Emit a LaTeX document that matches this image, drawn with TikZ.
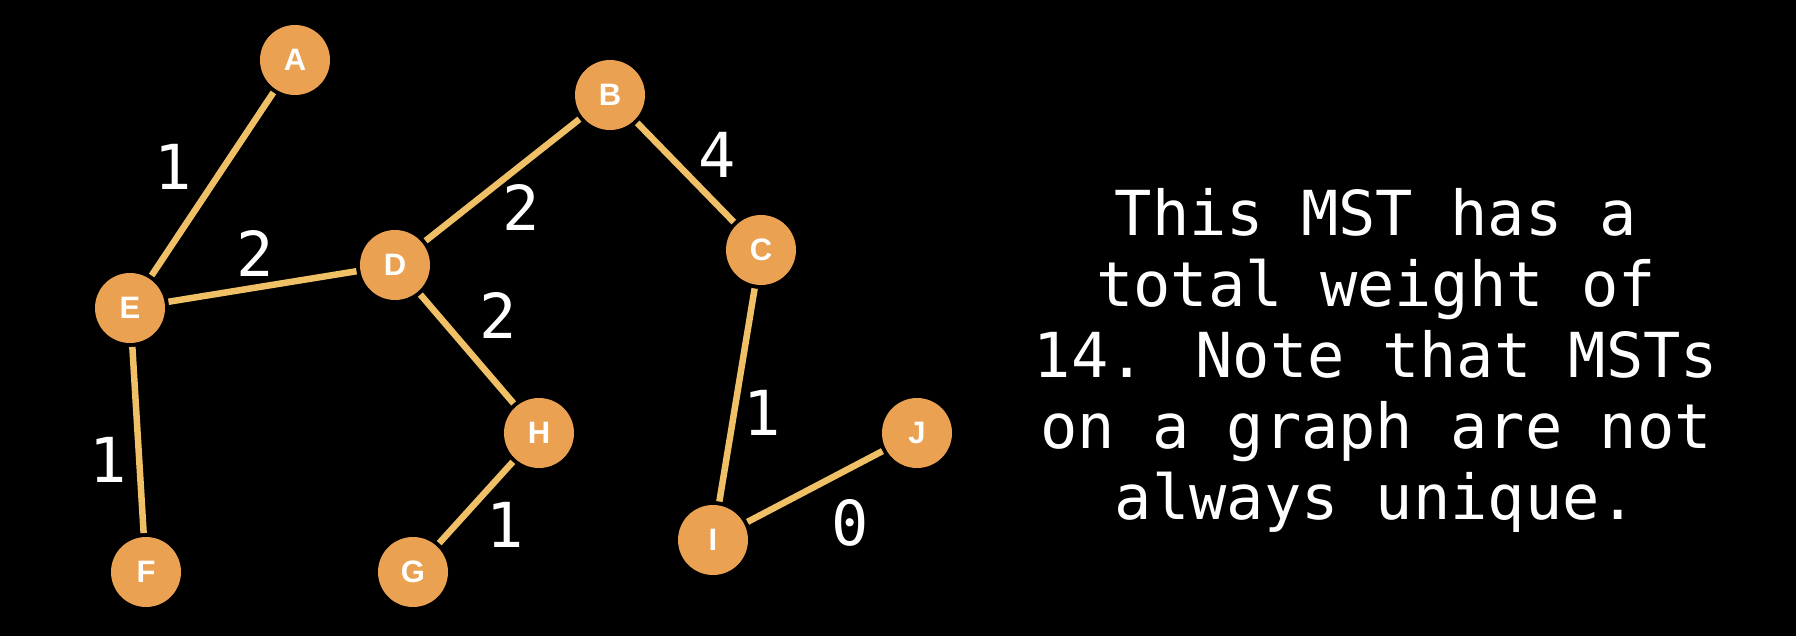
\documentclass[tikz,border=0pt]{standalone}
\usepackage{fontspec}
\setmainfont{Liberation Sans}
\newfontfamily\weightfont{DejaVu Sans Mono}
\usetikzlibrary{positioning}
\definecolor{vertexorange}{RGB}{235,161,82}
\definecolor{edgeorange}{RGB}{240,192,102}

\begin{document}
\begin{tikzpicture}[
    x=1pt, y=-1pt,
    vertex/.style={circle, fill=vertexorange, minimum size=70pt, inner sep=0pt, outer sep=4pt, text=white, font=\fontsize{31}{31}\selectfont\bfseries},
    edge/.style={line width=6.5pt, edgeorange},
    weight/.style={inner sep=0pt, text=white, font=\fontsize{62}{62}\selectfont\weightfont}
]
\fill[black] (0,0) rectangle (1796,636);
\useasboundingbox (0,0) rectangle (1796,636);

% vertices
\node[vertex] (A) at (295,60) {A};
\node[vertex] (B) at (610,95) {B};
\node[vertex] (C) at (761,250) {C};
\node[vertex] (D) at (395,265) {D};
\node[vertex] (E) at (130,308) {E};
\node[vertex] (F) at (146,572) {F};
\node[vertex] (G) at (413,572) {G};
\node[vertex] (H) at (539,433) {H};
\node[vertex] (I) at (713,540) {I};
\node[vertex] (J) at (917,433) {J};

% tree edges
\draw[edge] (A) -- (E);
\draw[edge] (E) -- (D);
\draw[edge] (D) -- (B);
\draw[edge] (B) -- (C);
\draw[edge] (D) -- (H);
\draw[edge] (E) -- (F);
\draw[edge] (H) -- (G);
\draw[edge] (C) -- (I);
\draw[edge] (I) -- (J);

% weights
\node[weight] (wAE) at (173,167) {1};
\node[weight] (wED) at (255,253) {2};
\node[weight] (wDB) at (521,207) {2};
\node[weight] (wDH) at (498,315) {2};
\node[weight] (wBC) at (717,155) {4};
\node[weight] (wEF) at (108,460) {1};
\node[weight] (wHG) at (505,525) {1};
\node[weight] (wCI) at (762,413) {1};
\node[weight] (wIJ) at (850,523) {0};

\node[align=center, text=white, inner sep=0pt, font=\fontsize{62}{71}\selectfont\weightfont] (note) at (1376,360)
  {This MST has a\\total weight of\\14. Note that MSTs\\on a graph are not\\always unique.};
\end{tikzpicture}
\end{document}
